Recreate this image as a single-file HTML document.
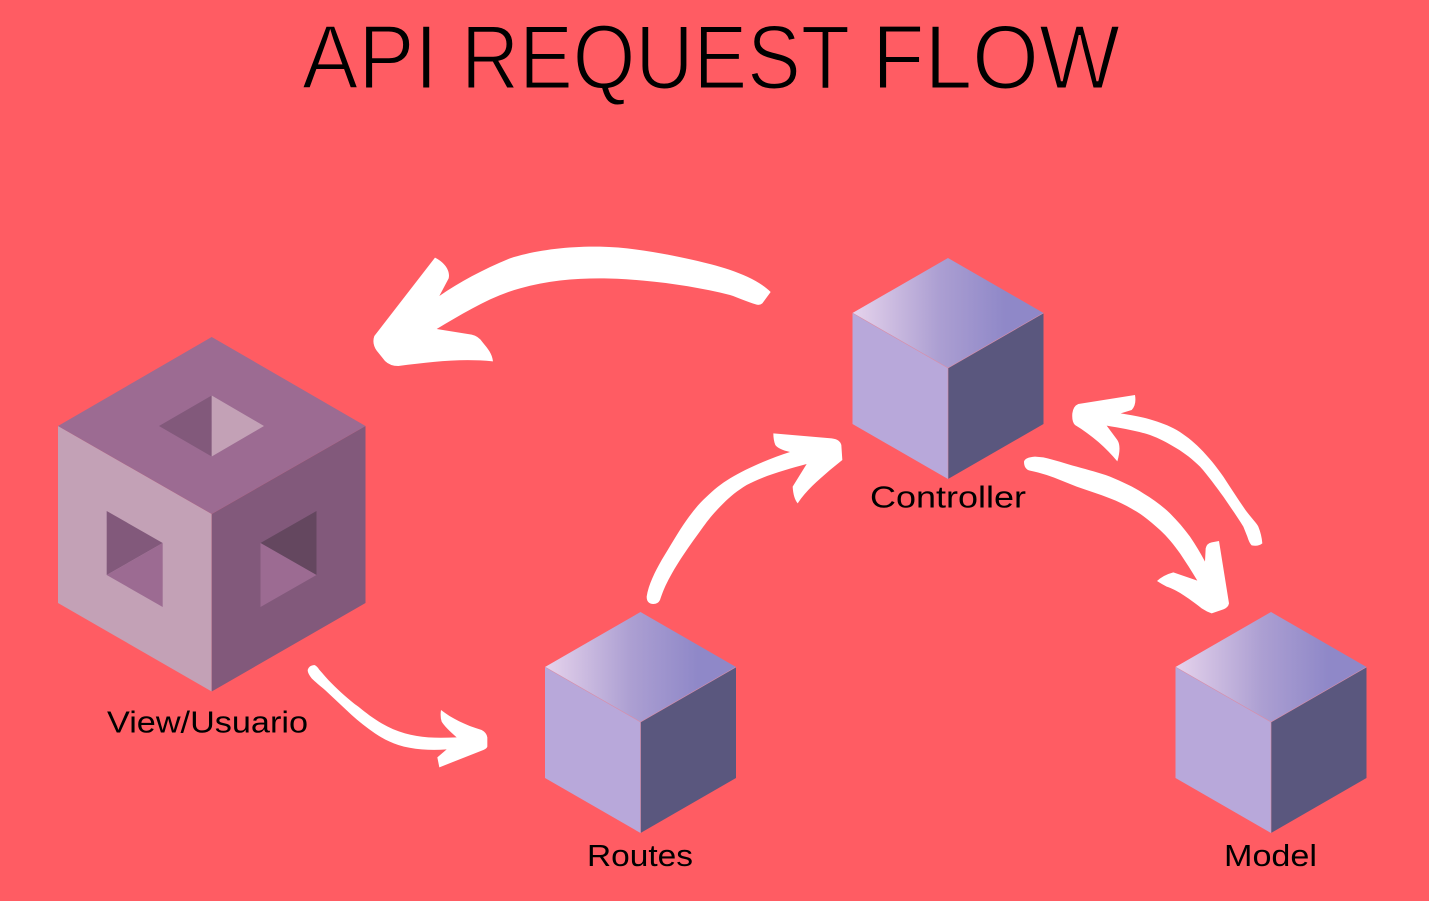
<!DOCTYPE html>
<html><head><meta charset="utf-8"><style>
html,body{margin:0;padding:0;background:#ff5c63}
svg{display:block}
text{font-family:"Liberation Sans",sans-serif;fill:#000}
</style></head><body>
<svg width="1429" height="901" viewBox="0 0 1429 901" xmlns="http://www.w3.org/2000/svg">
<defs>
<linearGradient id="g" gradientUnits="objectBoundingBox" x1="0" y1="0" x2="1" y2="0">
<stop offset="0" stop-color="#e6d3ec"/><stop offset=".45" stop-color="#ac9fd2"/><stop offset=".8" stop-color="#8f88c8"/><stop offset="1" stop-color="#8f88c8"/>
</linearGradient>
<g id="c">
<polygon points="545,667 640.5,722 640.5,833 545,778" fill="#b8a8da"/>
<polygon points="736,667 640.5,722 640.5,833 736,778" fill="#5a577e"/>
<polygon points="640.5,612 736,667 640.5,722 545,667" fill="url(#g)"/>
<path d="M545 667 L640.5 722 L736 667 M640.5 722 V833" fill="none" stroke="#d98ea8" stroke-width=".6"/>
</g>
</defs>
<rect width="1429" height="901" fill="#ff5c63"/>
<g font-size="91" lengthAdjust="spacingAndGlyphs" stroke="#ff5c63" stroke-width="2" paint-order="fill stroke">
<text x="302" y="88.7" textLength="136" lengthAdjust="spacingAndGlyphs">API</text>
<text x="461" y="88.7" textLength="389" lengthAdjust="spacingAndGlyphs">REQUEST</text>
<text x="872" y="88.7" textLength="248" lengthAdjust="spacingAndGlyphs">FLOW</text>
</g>

<polygon points="58,426 211.7,514 211.7,691.5 58,603" fill="#c3a1b6"/>
<polygon points="365.5,426 211.7,514 211.7,691.5 365.5,603" fill="#82597b"/>
<polygon points="211.7,337 365.5,426 211.7,514 58,426" fill="#9c6b92"/>
<polygon points="159,426 211.7,395.5 211.7,456.5" fill="#82597b"/>
<polygon points="264,426 211.7,395.5 211.7,456.5" fill="#c3a1b6"/>
<polygon points="106.7,511 162.7,543 106.7,575" fill="#82597b"/>
<polygon points="106.7,575 162.7,543 162.7,607" fill="#9c6b92"/>
<polygon points="260.5,543 316.5,511 316.5,575" fill="#64475f"/>
<polygon points="260.5,543 316.5,575 260.5,607" fill="#9c6b92"/>

<use href="#c"/>
<use href="#c" x="307.5" y="-354"/>
<use href="#c" x="630.5"/>

<text x="107" y="732.5" font-size="31" textLength="201" lengthAdjust="spacingAndGlyphs">View/Usuario</text>
<text x="587" y="866" font-size="31" textLength="106" lengthAdjust="spacingAndGlyphs">Routes</text>
<text x="870" y="507.5" font-size="31" textLength="156" lengthAdjust="spacingAndGlyphs">Controller</text>
<text x="1224" y="866" font-size="31" textLength="93" lengthAdjust="spacingAndGlyphs">Model</text>

<g fill="#fff">
<path transform="translate(360 230) scale(.33333)" d="M225 83 C250 95 272 120 266 145 L238 198 C300 155 370 118 450 85 C520 62 620 48 720 50 C820 52 920 72 1000 90 C1080 108 1180 135 1232 186 L1207 220 Q1200 226 1190 224 C1160 215 1135 203 1110 195 C1030 175 940 160 850 152 C800 147 760 145 720 145 C640 145 560 152 480 175 C390 200 310 250 230 297 L335 314 Q355 318 368 337 C385 358 396 370 399 394 C300 385 220 395 115 408 Q90 408 75 393 L50 362 Q35 340 43 318 Z"/>
<path transform="translate(630 420) scale(.33333)" d="M50 530 C55 495 75 455 95 420 C120 380 145 335 170 300 C190 272 208 250 230 230 C250 210 275 190 300 175 C350 145 420 115 480 96 Q445 88 436 75 Q430 60 430 40 L605 55 Q630 58 634 75 L637 120 L600 150 C560 185 530 210 503 250 Q490 235 488 200 L530 132 C470 148 400 168 350 195 C322 212 300 230 280 250 C255 275 238 295 220 320 C200 348 180 375 160 405 C140 435 125 460 110 490 C100 510 95 525 90 540 Q84 552 70 552 Q50 552 50 530 Z"/>
<path transform="translate(295 650) scale(.33333)" d="M38 60 Q42 46 58 45 Q66 48 72 58 C85 72 97 88 110 100 C135 125 160 148 190 170 C212 188 235 206 260 220 C282 233 305 243 330 250 C352 256 375 260 400 262 C430 264 458 263 485 262 Q450 232 440 215 Q435 200 438 180 C470 205 510 225 560 240 Q575 248 577 262 L577 290 Q575 296 565 300 L433 352 L427 322 L455 298 C430 300 405 300 380 298 C355 296 332 292 310 285 C285 277 262 265 240 250 C215 233 192 215 170 195 C143 170 117 145 90 120 C75 107 60 95 50 85 Q38 70 38 60 Z"/>
<path transform="translate(1010 380) scale(.33333)" d="M375 45 Q380 75 365 90 L332 100 C362 105 392 110 420 118 C450 127 476 136 500 150 C525 165 548 183 570 205 C595 230 618 258 640 290 C663 325 685 360 710 395 C725 415 740 430 745 440 Q755 465 757 490 Q745 500 725 496 Q718 490 712 470 L700 440 C682 410 660 380 640 350 C618 320 595 288 570 260 C548 238 525 220 500 205 C475 190 448 175 420 165 C380 152 335 145 290 137 L322 180 Q335 200 322 244 C290 205 245 165 195 135 Q185 125 187 100 Q190 78 205 72 Z"/>
<path transform="translate(1010 380) scale(.33333)" d="M42 245 Q45 232 75 230 L100 232 C135 240 165 250 200 260 C235 270 268 278 300 290 C335 305 370 320 400 340 C430 358 457 378 480 400 C502 422 522 445 540 470 C557 495 572 520 585 545 L587 505 Q590 490 605 487 L627 483 L657 670 Q655 682 640 688 L605 700 Q590 695 575 685 C530 650 500 630 470 620 Q455 612 441 603 Q460 585 490 577 L562 602 C545 573 528 547 510 520 C492 495 472 470 450 450 C428 430 405 410 380 395 C355 380 328 365 300 355 C268 342 233 332 200 320 C170 308 140 295 110 285 C93 280 75 275 60 272 Q42 268 42 245 Z"/>
</g>
</svg>
</body></html>
